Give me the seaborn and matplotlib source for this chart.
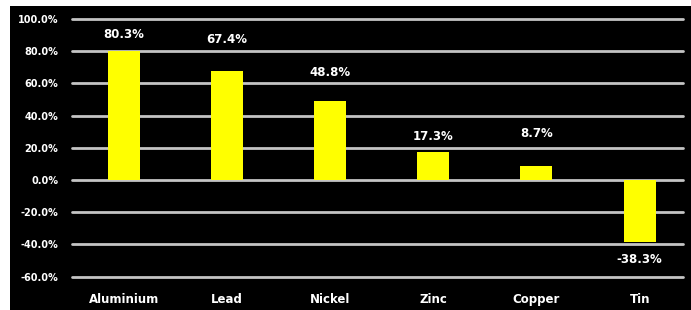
import matplotlib.pyplot as plt
import seaborn as sns
import pandas as pd
from matplotlib.patches import Rectangle

metales = ["Aluminium", "Lead", "Nickel", "Zinc", "Copper", "Tin"]
cambio = [80.3, 67.4, 48.8, 17.3, 8.7, -38.3]
yticks = [-60, -40, -20, 0, 20, 40, 60, 80, 100]
# separacion (px) entre la barra y su etiqueta, como en el original
sep_etiqueta = [16, 32, 29, 16, 32, 18]

sns.set_style("dark")
plt.rcParams["font.family"] = ["DejaVu Sans"]

df = pd.DataFrame({"metal": metales, "cambio": cambio})

fig = plt.figure(figsize=(6.91, 3.10), dpi=100)
fig.patch.set_facecolor("white")
# fondo negro recortado (la captura tiene borde blanco arriba e izquierda)
fondo = Rectangle((10 / 691, 0), 1, 1 - 6 / 310, transform=fig.transFigure,
                  facecolor="black", edgecolor="none")
fondo.set_zorder(-10)
fig.add_artist(fondo)

ax = fig.add_axes([72 / 691, 1 - 276.6 / 310, (683 - 72) / 691, (276.6 - 19) / 310])
ax.set_zorder(5)
ax.set_facecolor("none")
ax.set_axisbelow(True)

sns.barplot(data=df, x="metal", y="cambio", color="#ffff00", saturation=1,
            width=0.31, ax=ax, edgecolor="none", linewidth=0)
for p in ax.patches:
    p.set_zorder(3)

ax.set_ylim(-60, 100)
ax.set_xlim(-0.5, 5.42)
ax.set_yticks(yticks)
ax.set_yticklabels([f"{v:.1f}%" for v in yticks], color="white",
                   fontsize=7, fontweight="bold")
ax.tick_params(axis="y", length=0, pad=10)
ax.tick_params(axis="x", length=0, pad=12, colors="white", labelsize=8.5)
for t in ax.get_xticklabels():
    t.set_fontweight("bold")

ax.yaxis.grid(True, color="#c4c4c4", linewidth=2)
for gl in ax.yaxis.get_gridlines():
    gl.set_clip_on(False)
ax.xaxis.grid(False)
for s in ax.spines.values():
    s.set_visible(False)
ax.set_xlabel("")
ax.set_ylabel("")

for i, v in enumerate(cambio):
    off = sep_etiqueta[i] if v >= 0 else -sep_etiqueta[i]
    ax.annotate(f"{v}%", (i, v), xytext=(0, off), textcoords="offset pixels",
                ha="center", va="center",
                color="white", fontsize=8.5, fontweight="bold")

fig.savefig("out.png", dpi=100, facecolor=fig.get_facecolor())
